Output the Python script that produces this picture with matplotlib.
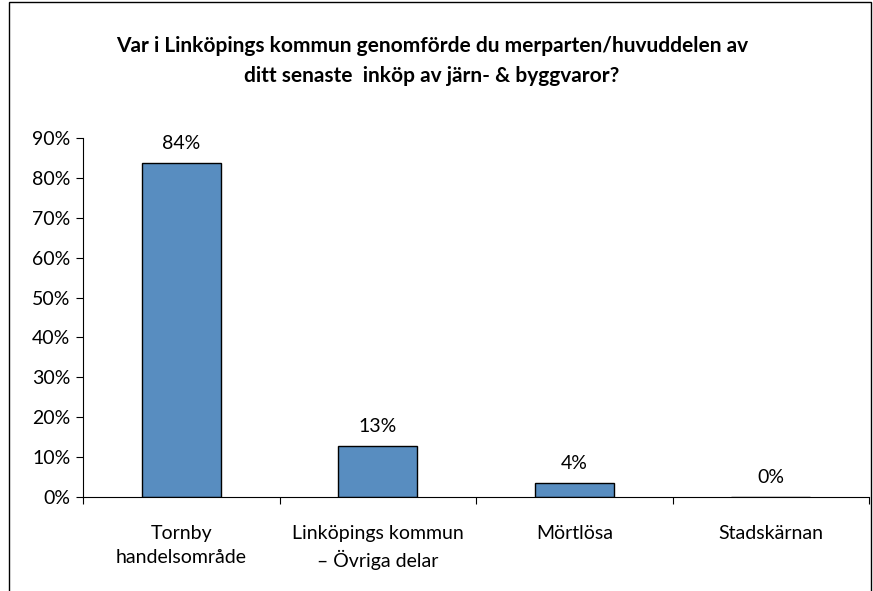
import matplotlib.pyplot as plt
import matplotlib.patches as mpatches
import numpy as np

plt.rcParams['font.family'] = ['Lato', 'DejaVu Sans']

# Data
categories = ["Tornby\nhandelsområde", "Linköpings kommun\n– Övriga delar", "Mörtlösa", "Stadskärnan"]
values = [0.837, 0.128, 0.036, 0.0]
yticks = [0.0, 0.1, 0.2, 0.3, 0.4, 0.5, 0.6, 0.7, 0.8, 0.9]
title = "Var i Linköpings kommun genomförde du merparten/huvuddelen av\nditt senaste  inköp av järn- & byggvaror?"

fig = plt.figure(figsize=(8.73, 5.91), dpi=100)
ax = fig.add_axes([83/873, 1-497/591, (869-83)/873, (497-138)/591])

x = np.arange(len(categories))
ax.bar(x, values, width=0.4, color="#588DC0", edgecolor="black", linewidth=1)

for xi, v in zip(x, values):
    ax.annotate(f"{v:.0%}", (xi, v), xytext=(0, 8), textcoords="offset points",
                ha="center", va="bottom", fontsize=14)

ax.set_xlim(-0.5, len(categories) - 0.5)
ax.set_ylim(0, 0.9)
ax.set_yticks(yticks)
ax.set_yticklabels([f"{t:.0%}" for t in yticks], fontsize=14)

# boundaries get the tick marks, centers get the labels
ax.set_xticks(np.arange(len(categories) + 1) - 0.5)
ax.set_xticklabels([])
ax.set_xticks(x, minor=True)
ax.set_xticklabels(categories, minor=True, fontsize=14, linespacing=1.5)
ax.tick_params(axis="x", which="minor", length=0, pad=20)
ax.tick_params(axis="x", which="major", length=5, direction="out")
ax.tick_params(axis="y", length=5, direction="out", pad=4)

for s in ["top", "right"]:
    ax.spines[s].set_visible(False)

fig.text(432/873, 1-61/591, title, ha="center", va="center", fontsize=15,
         fontweight="bold", linespacing=1.65)

# outer chart frame
fig.patches.append(mpatches.Rectangle((9/873, -0.05), (871-9)/873, 1.05 - 2/591,
                                      transform=fig.transFigure, fill=False,
                                      edgecolor="black", linewidth=1))

fig.savefig("out.png", dpi=100)
